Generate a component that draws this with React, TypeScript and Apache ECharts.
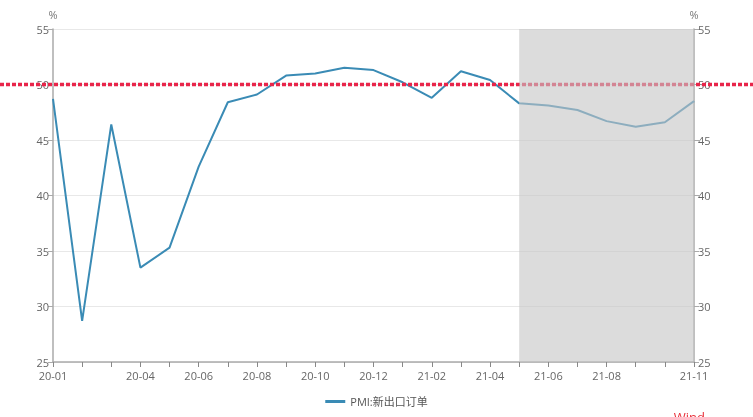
import React, { useEffect, useRef } from "react";
import * as echarts from "echarts";

const categories = [
  "20-01", "20-02", "20-03", "20-04", "20-05", "20-06", "20-07", "20-08", "20-09", "20-10", "20-11", "20-12",
  "21-01", "21-02", "21-03", "21-04", "21-05", "21-06", "21-07", "21-08", "21-09", "21-10", "21-11",
];
const newExportOrders = [
  48.7, 28.7, 46.4, 33.5, 35.3, 42.6, 48.4, 49.1, 50.8, 51.0, 51.5, 51.3,
  50.2, 48.8, 51.2, 50.4, 48.3, 48.1, 47.7, 46.7, 46.2, 46.6, 48.5,
];
const labelledCategories = ["20-01", "20-04", "20-06", "20-08", "20-10", "20-12", "21-02", "21-04", "21-06", "21-08", "21-11"];
const shadeStart = "21-05";
const shadeEnd = "21-11";
const thresholdValue = 50;
const seriesName = "PMI:新出口订单";

const FONT = "'Open Sans', 'Noto Sans CJK SC', sans-serif";

export default function App() {
  const ref = useRef<HTMLDivElement>(null);
  useEffect(() => {
    if (!ref.current) return;
    const chart = echarts.init(ref.current, undefined, { renderer: "svg" });
    const axisLabel = { color: "#666", fontSize: 11, fontFamily: FONT };
    const yAxisBase = {
      type: "value" as const,
      min: 25,
      max: 55,
      interval: 5,
      name: "%",
      nameLocation: "end" as const,
      nameGap: 9,
      nameTextStyle: { color: "#777", fontSize: 11, fontFamily: FONT },
      axisLine: { show: true, lineStyle: { color: "#aaa", width: 1.5 } },
      axisTick: { show: true, length: 5, lineStyle: { color: "#aaa" } },
      axisLabel: { ...axisLabel, margin: 4 },
    };
    chart.setOption({
      animation: false,
      grid: { left: 53, right: 59, top: 29, bottom: 55, containLabel: false },
      legend: {
        data: [seriesName],
        bottom: 5,
        left: "center",
        itemWidth: 20,
        itemHeight: 3,
        icon: "rect",
        textStyle: { color: "#555", fontSize: 11, fontFamily: FONT },
      },
      xAxis: {
        type: "category",
        data: categories,
        boundaryGap: false,
        axisLine: { lineStyle: { color: "#aaa", width: 1.5 } },
        axisTick: { show: true, interval: 0, length: 5, lineStyle: { color: "#888" } },
        axisLabel: {
          ...axisLabel,
          margin: 8,
          interval: (i: number, v: string) => labelledCategories.includes(v),
        },
        splitLine: { show: false },
      },
      yAxis: [
        { ...yAxisBase, position: "left", splitLine: { show: true, lineStyle: { color: "#e8e8e8" } } },
        { ...yAxisBase, position: "right", splitLine: { show: false } },
      ],
      series: [
        {
          name: seriesName,
          type: "line",
          data: newExportOrders,
          symbol: "none",
          z: 2,
          lineStyle: { color: "#3a8bb5", width: 2 },
          itemStyle: { color: "#3a8bb5" },
        },
        {
          name: "shade",
          type: "line",
          data: [],
          z: 10,
          markArea: {
            silent: true,
            z: 10,
            itemStyle: { color: "rgba(196,196,196,0.6)" },
            data: [[{ xAxis: shadeStart }, { xAxis: shadeEnd }]],
          },
        },
      ],
    });
    const y = chart.convertToPixel({ yAxisIndex: 0 }, thresholdValue) as number;
    const w = chart.getWidth();
    const h = chart.getHeight();
    chart.setOption({
      graphic: [
        {
          type: "line",
          z: 5,
          shape: { x1: 0, y1: y, x2: w, y2: y },
          style: { stroke: "#e8254a", lineWidth: 3.5, lineDash: [4, 2] },
        },
        {
          type: "text",
          right: w - 705,
          top: h - 7,
          style: { text: "Wind", fill: "#e8323c", font: `13px ${FONT}` },
        },
      ],
    });
    return () => chart.dispose();
  }, []);
  return <div ref={ref} style={{ position: "fixed", left: 0, top: 0, width: 753, height: 417 }} />;
}
